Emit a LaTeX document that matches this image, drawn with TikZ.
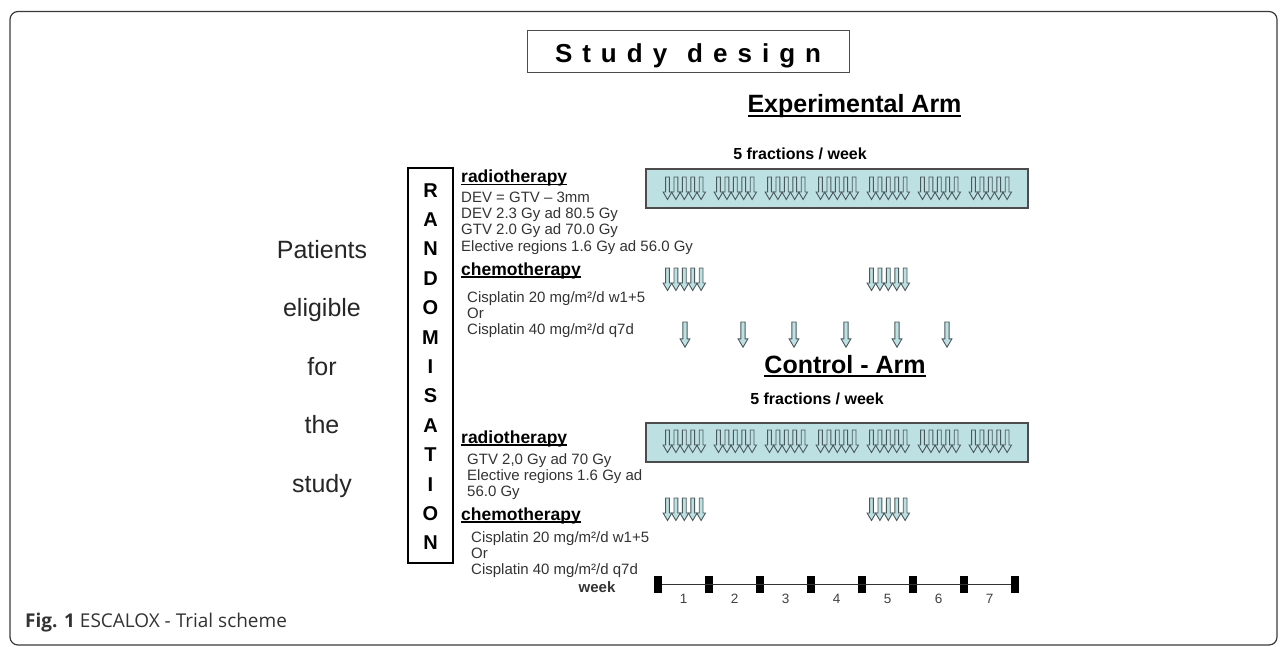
\documentclass[tikz,border=0pt]{standalone}
\usepackage{fontspec}
\setmainfont{Liberation Sans}
\newfontfamily\capfont{Open Sans}
\usetikzlibrary{positioning}

\definecolor{barfill}{HTML}{BDE0E3}
\definecolor{arrowline}{HTML}{4A585B}
\definecolor{framegray}{HTML}{3A3A3A}

% underline with own thickness and depth
\newcommand\ulbox[3]{\setbox0\hbox{#3}\rlap{\rule[-#2]{\wd0}{#1}}\box0}
\newcommand\lsp{\hspace{10pt}}

\tikzset{
  fxarrow/.pic={
    \path[draw=arrowline,fill=barfill,line width=0.9pt]
      (-1.9,0) -- (-1.9,15) -- (-4.4,15) -- (0,22.5) -- (4.4,15)
      -- (1.9,15) -- (1.9,0) -- cycle;
  }
}

\begin{document}
\begin{tikzpicture}[%
        x=1pt,y=-1pt,
        txt/.style={anchor=base west,inner sep=0pt,
          font=\fontsize{15}{16}\selectfont,text=black!80},
        head/.style={anchor=base west,inner sep=0pt,
          font=\fontsize{17.5}{20}\selectfont\bfseries},
        armhd/.style={anchor=base,inner sep=0pt,
          font=\fontsize{25}{30}\selectfont\bfseries},
        frac/.style={anchor=base,inner sep=0pt,
          font=\fontsize{16}{19}\selectfont\bfseries},
        pat/.style={anchor=base,inner sep=0pt,
          font=\fontsize{25}{30}\selectfont,text=black!85},
        randl/.style={anchor=base,inner sep=0pt,
          font=\fontsize{20}{24}\selectfont\bfseries},
        bar/.style={draw=black!70,line width=1.3pt,fill=barfill,
          minimum width=382pt,minimum height=39pt,inner sep=0pt},
        wkbox/.style={fill=black,minimum width=8pt,minimum height=17pt,
          inner sep=0pt},
        wknum/.style={anchor=base,inner sep=0pt,
          font=\fontsize{13.5}{15}\selectfont,text=black!75}
      ]
      \useasboundingbox (0,0) rectangle (1287,647);
      \draw[framegray,line width=1.2pt,rounded corners=8pt]
        (10,11.5) rectangle (1277,645);

      % title
      \node[draw=black!70,line width=1pt,minimum width=322pt,
        minimum height=42pt,inner sep=0pt] (title) at (688,52) {};
      \node[anchor=base,inner sep=0pt,font=\fontsize{26}{30}\selectfont\bfseries]
        (titletext) at (688,63)
        {S\lsp t\lsp u\lsp d\lsp y\hspace{20pt}d\lsp e\lsp s\lsp i\lsp g\lsp n};

      % patients and randomisation
      \foreach \w [count=\i from 0] in {Patients,eligible,for,the,study}
        \node[pat] (p\i) at (322,{258+\i*58.5}) {\w};
      \node[draw,line width=1.8pt,minimum width=45pt,minimum height=395pt,
        inner sep=0pt] (rand) at (430.5,365.5) {};
      \foreach \l [count=\i from 0] in {R,A,N,D,O,M,I,S,A,T,I,O,N}
        \node[randl] (r\i) at (430.5,{197+\i*29.4}) {\l};

      % experimental arm
      \node[armhd] (exparm) at (854.5,113) {\ulbox{2pt}{4pt}{Experimental Arm}};
      \node[frac] (expfrac) at (800,160) {5 fractions / week};
      \node[bar] (expbar) at (837,188.5) {};
      \node[head] (exprt) at (461,183) {\ulbox{1.3pt}{2.5pt}{radiotherapy}};
      \node[txt] (exprtx) at (461,203) {\begin{tabular}[t]{@{}l@{}}
        DEV = GTV – 3mm\\DEV 2.3 Gy ad 80.5 Gy\\GTV 2.0 Gy ad 70.0 Gy\\
        Elective regions 1.6 Gy ad 56.0 Gy\end{tabular}};
      \node[head] (expct) at (461,275) {\ulbox{1.3pt}{2.5pt}{chemotherapy}};
      \node[txt] (expctx) at (467,302) {\begin{tabular}[t]{@{}l@{}}
        Cisplatin 20 mg/m²/d w1+5\\Or\\Cisplatin 40 mg/m²/d q7d\end{tabular}};

      % control arm
      \node[armhd] (ctrlarm) at (845,373) {\ulbox{2pt}{4pt}{Control - Arm}};
      \node[frac] (ctrlfrac) at (817,404) {5 fractions / week};
      \node[bar] (ctrlbar) at (837,442.5) {};
      \node[head] (ctrlrt) at (461,443) {\ulbox{1.3pt}{2.5pt}{radiotherapy}};
      \node[txt] (ctrlrtx) at (467,464) {\begin{tabular}[t]{@{}l@{}}
        GTV 2,0 Gy ad 70 Gy\\Elective regions 1.6 Gy ad\\56.0 Gy\end{tabular}};
      \node[head] (ctrlct) at (461,520) {\ulbox{1.3pt}{2.5pt}{chemotherapy}};
      \node[txt] (ctrlctx) at (471,542) {\begin{tabular}[t]{@{}l@{}}
        Cisplatin 20 mg/m²/d w1+5\\Or\\Cisplatin 40 mg/m²/d q7d\end{tabular}};

      % fractions
      \foreach \g in {0,...,6}
        \foreach \k in {0,...,4} {
          \pic at ({667.5+\g*51+\k*8.4},177) {fxarrow};
          \pic at ({667.5+\g*51+\k*8.4},430) {fxarrow};
        }
      % chemo weeks 1 and 5
      \foreach \g in {0,4}
        \foreach \k in {0,...,4} {
          \pic at ({667.5+\g*51+\k*8.4},268) {fxarrow};
          \pic at ({667.5+\g*51+\k*8.4},498) {fxarrow};
        }
      % weekly cisplatin
      \foreach \xx in {685,743,794,846,897,947}
        \pic[scale=1.12] at (\xx,322) {fxarrow};

      % week scale
      \node[anchor=base,inner sep=0pt,font=\fontsize{15}{18}\selectfont\bfseries,
        text=black!80] (week) at (597,592) {week};
      \foreach \k in {0,...,7}
        \node[wkbox] (w\k) at ({658+\k*51},584) {};
      \draw[black!80,line width=0.9pt] (w0) -- (w7);
      \foreach \k in {1,...,7}
        \node[wknum] (n\k) at ({658+\k*51-25.5},603) {\k};

      % caption
      \node[anchor=base west,inner sep=0pt,font=\capfont\fontsize{19}{22}\selectfont,
        text=black!80] (cap) at (25,627) {\textbf{Fig. 1} ESCALOX - Trial scheme};
  \end{tikzpicture}
\end{document}
